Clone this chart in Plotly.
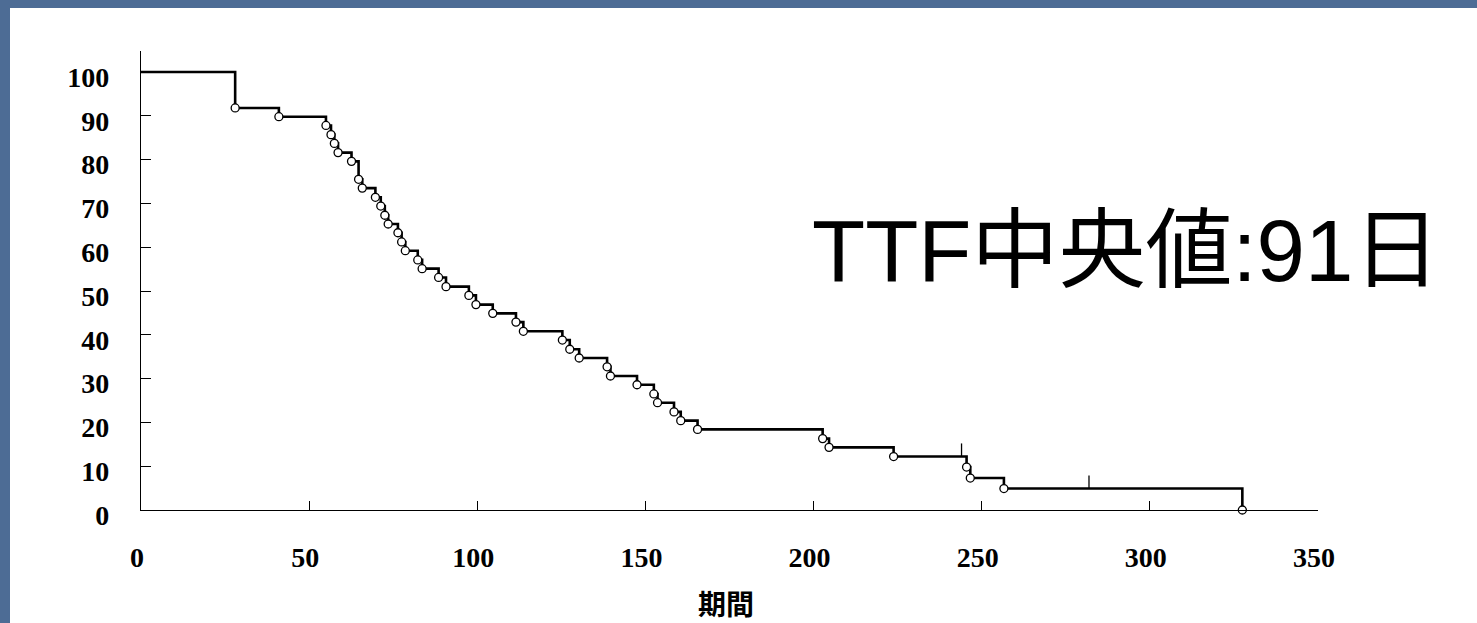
import plotly.graph_objects as go

# ---- data ----
event_times = [28, 41, 55, 56.5, 57.5, 58.6, 62.6, 64.7, 65.8, 69.7,
               71.3, 72.5, 73.5, 76.4, 77.5, 78.6, 82.3, 83.6, 88.5, 90.7,
               97.5, 99.6, 104.6, 111.5, 113.7, 125.3, 127.5, 130.3, 138.6, 139.6,
               147.5, 152.5, 153.6, 158.5, 160.5, 165.5, 202.7, 204.6, 223.8, 245.5,
               246.6, 256.6, 327.5]
survival = [91.8, 89.8, 87.8, 85.7, 83.7, 81.6, 79.6, 75.5, 73.5, 71.4,
            69.4, 67.3, 65.3, 63.3, 61.2, 59.2, 57.1, 55.1, 53.1, 51.0,
            49.0, 46.9, 44.9, 42.9, 40.8, 38.8, 36.7, 34.7, 32.7, 30.6,
            28.6, 26.5, 24.5, 22.4, 20.4, 18.4, 16.3, 14.3, 12.2, 9.8,
            7.3, 4.9, 0]
start_time = 0
start_level = 100
censor_times = [244.0, 281.9]
censor_levels = [12.2, 4.9]
x_ticks = [0, 50, 100, 150, 200, 250, 300, 350]
y_ticks = [0, 10, 20, 30, 40, 50, 60, 70, 80, 90, 100]
x_title = "期間"
note_text = "TTF中央値:91日"

# ---- styles ----
TICK_H = 3.0
label_font = dict(family="Liberation Serif, Times New Roman, serif", size=28,
                  color="black", weight="bold")

fig = go.Figure()

fig.add_trace(go.Scatter(
    x=[start_time] + event_times, y=[start_level] + survival,
    mode="lines", line=dict(color="black", width=2.6, shape="hv"),
    hoverinfo="skip", showlegend=False))

cx, cy = [], []
for t, lv in zip(censor_times, censor_levels):
    cx += [t, t, None]
    cy += [lv, lv + TICK_H, None]
fig.add_trace(go.Scatter(x=cx, y=cy, mode="lines",
                         line=dict(color="black", width=1.3),
                         hoverinfo="skip", showlegend=False))

fig.add_trace(go.Scatter(
    x=event_times, y=survival, mode="markers", cliponaxis=False,
    marker=dict(symbol="circle", size=8, color="white",
                line=dict(color="black", width=1.3)),
    showlegend=False))

fig.update_xaxes(range=[0, 350], tickvals=x_ticks, ticktext=[str(v) for v in x_ticks],
                 showline=True, linecolor="black", linewidth=1.2,
                 ticks="inside", ticklen=9, tickwidth=1.2, tickcolor="black",
                 showgrid=False, zeroline=False, tickfont=label_font,
                 ticklabelstandoff=22, ticklabelshift=-4)
fig.update_yaxes(range=[0, 104.8], tickvals=y_ticks, ticktext=[str(v) for v in y_ticks],
                 showline=True, linecolor="black", linewidth=1.2,
                 ticks="inside", ticklen=10, tickwidth=1.2, tickcolor="black",
                 showgrid=False, zeroline=False, tickfont=label_font,
                 ticklabelstandoff=25, ticklabelshift=5)

fig.add_shape(type="rect", xref="paper", yref="paper",
              x0=-0.1113, x1=1.1351, y0=-0.2462, y1=1.0937,
              fillcolor="white", line=dict(width=0), layer="below")

fig.add_annotation(x=0.568, y=0.566, xref="paper", yref="paper",
                   text=note_text, showarrow=False, xanchor="left", yanchor="middle",
                   font=dict(family="Liberation Sans, Arial, Noto Sans CJK JP",
                             size=87, color="black"))
fig.add_annotation(x=0.4968, y=-0.2037, xref="paper", yref="paper",
                   text=x_title, showarrow=False, xanchor="center", yanchor="middle",
                   font=dict(family="Noto Sans CJK JP", size=28, color="black",
                             weight="bold"))

fig.update_layout(width=1477, height=623,
                  margin=dict(l=141, r=159, t=51, b=113),
                  paper_bgcolor="#4d6c95", plot_bgcolor="white")

fig.write_html("out.html", config={"displayModeBar": False},
               post_script="document.body.style.margin='0';"
                           "document.body.style.overflow='hidden';")
